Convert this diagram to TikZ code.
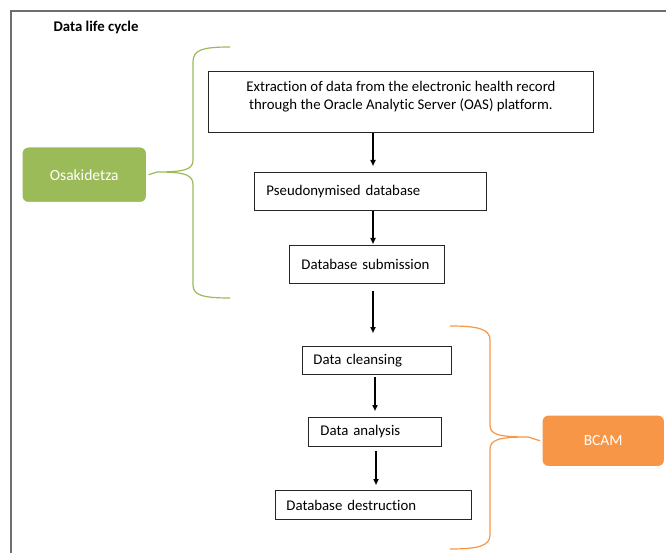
\documentclass[tikz,border=0pt]{standalone}
\usepackage{fontspec}
\setmainfont[RawFeature={-liga,-dlig}]{Carlito}
\usetikzlibrary{arrows.meta,shadows}
\definecolor{osagreen}{HTML}{9BBB59}
\definecolor{bcamorange}{HTML}{F79646}
\definecolor{framegray}{HTML}{6E6E6E}
\begin{document}
\begin{tikzpicture}[x=1pt,y=-1pt,
  stepfont/.style={font=\fontsize{14.8}{18}\selectfont},
  stepbox/.style={draw=black!85,line width=0.9pt,fill=white,inner ysep=0pt,stepfont},
  orgbox/.style={rounded corners=7pt,draw=white,line width=2.5pt,text=white,
     font=\fontsize{15.5}{18}\selectfont,minimum width=126pt,minimum height=57pt,
     drop shadow={shadow xshift=0.5pt,shadow yshift=-1pt,opacity=0.25,fill=black!60}},
  arr/.style={-{Triangle[length=6pt,width=5pt]},line width=1.5pt},
  brace/.style={line width=1.2pt}]
\useasboundingbox (0,0) rectangle (666,553);
\draw[framegray,line width=1.5pt] (11,553) -- (11,11) -- (666,11);
\node[anchor=west,font=\bfseries\fontsize{14.8}{16}\selectfont] (title) at (50,27) {Data life cycle};

\node[stepbox,minimum width=385pt,minimum height=61pt,anchor=north west] (b1) at (208,71) {};
\node[stepfont,align=center,inner sep=0pt] (b1t) at ([yshift=5pt]b1.center)
  {Extraction of data from the electronic health record\\through the Oracle Analytic Server (OAS) platform.};
\node[stepbox,anchor=north west,minimum height=38pt,inner xsep=12pt,text width=208pt,align=left] (b2) at (254,172) {Pseudonymised database};
\node[stepbox,anchor=north west,minimum height=38pt,inner xsep=12pt,text width=131pt,align=left] (b3) at (289,245) {Database submission};
\node[stepbox,anchor=north west,minimum height=28pt,inner xsep=11pt,text width=127pt,align=left] (b4) at (302,346) {Data cleansing};
\node[stepbox,anchor=north west,minimum height=29pt,inner xsep=12pt,text width=109pt,align=left] (b5) at (308,417) {Data analysis};
\node[stepbox,anchor=north west,minimum height=29pt,inner xsep=11pt,text width=174pt,align=left] (b6) at (275,490) {Database destruction};

\coordinate (ax) at (373,0);
\coordinate (bx) at (375,0);
\coordinate (cx) at (376,0);
\draw[arr] (b1.south -| ax) -- ([yshift=6pt]b2.north -| ax);
\draw[arr] (b2.south -| ax) -- ([yshift=1pt]b3.north -| ax);
\draw[arr,line width=2.5pt] ([yshift=-7pt]b3.south -| ax) -- ([yshift=13pt]b4.north -| ax);
\draw[arr] ([yshift=-2pt]b4.south -| bx) -- ([yshift=6pt]b5.north -| bx);
\draw[arr] ([yshift=-4pt]b5.south -| cx) -- ([yshift=5pt]b6.north -| cx);

\node[orgbox,fill=osagreen,anchor=north west] (osa) at (20,145) {Osakidetza};
\node[orgbox,fill=bcamorange,minimum width=124pt,minimum height=53pt,anchor=north west] (bcam) at (540,413) {BCAM};

\coordinate (gtip) at (157,172);
\coordinate (otip) at (528,437);
\draw[brace,osagreen] (230,47) .. controls (202,47) and (193,50) .. (193,62) -- (193,160)
  .. controls (193,169) and (186,172) .. (gtip)
  .. controls (186,172) and (193,175) .. (193,185) -- (193,285)
  .. controls (193,295) and (202,298) .. (230,298);
\draw[brace,bcamorange] (450,326) .. controls (478,326) and (490,329) .. (490,340) -- (490,425)
  .. controls (490,434) and (497,437) .. (otip)
  .. controls (497,437) and (490,440) .. (490,450) -- (490,535)
  .. controls (490,546) and (478,549) .. (450,549);
\draw[brace,osagreen] (osa.east) -- (gtip);
\draw[brace,bcamorange] (otip) -- (bcam.west);
\end{tikzpicture}
\end{document}
